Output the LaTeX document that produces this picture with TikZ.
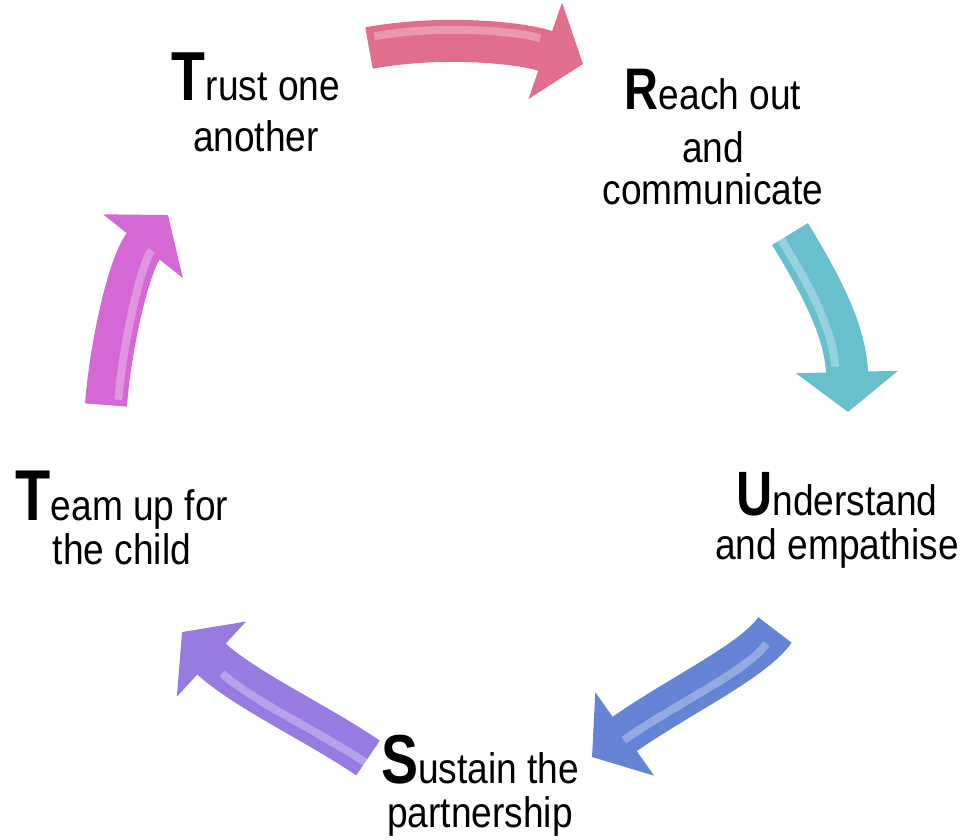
\documentclass[tikz,border=0pt]{standalone}
\usepackage{fontspec}
\setmainfont{Liberation Sans}[FakeStretch=0.87]
\newfontfamily\bigfont{Liberation Sans Bold}[FakeStretch=0.8]
\usetikzlibrary{arrows.meta}
\definecolor{pinkA}{RGB}{224,110,140}
\definecolor{cyanA}{RGB}{104,192,206}
\definecolor{blueA}{RGB}{102,132,214}
\definecolor{purpA}{RGB}{152,122,224}
\definecolor{magA}{RGB}{212,104,212}
\newcommand\biglet[2]{{\fontsize{#1}{#1}\bigfont #2}}
\tikzset{
  lbl/.style={anchor=base, inner sep=0pt, font=\fontsize{32pt}{33pt}\selectfont},
  cyclearrow/.style={line width=31.5pt, draw=#1, -{Triangle[length=30pt,width=75pt,fill=#1]}},
  shine/.style={line width=6pt, draw=white, opacity=0.3, shorten >=34pt, shorten <=4pt},
}
\begin{document}
\begin{tikzpicture}[x=0.75pt,y=-0.75pt]
\useasboundingbox (0,0) rectangle (960,839);
\fill[white] (0,0) rectangle (960,839);

% labels
\node[lbl] (trust) at (256,100) {\begin{tabular}[t]{@{}c@{}}\biglet{52pt}{T}rust one\\[5.5pt] another\end{tabular}};
\node[lbl] (reach) at (713,109) {\begin{tabular}[t]{@{}c@{}}\biglet{44pt}{R}each out\\[7pt] and\\[-1.5pt] communicate\end{tabular}};
\node[lbl] (under) at (837,515) {\begin{tabular}[t]{@{}c@{}}\biglet{47pt}{U}nderstand\\ and empathise\end{tabular}};
\node[lbl] (sust) at (480,783) {\begin{tabular}[t]{@{}c@{}}\biglet{52pt}{S}ustain the\\ partnership\end{tabular}};
\node[lbl] (team) at (122,520) {\begin{tabular}[t]{@{}c@{}}\biglet{54pt}{T}eam up for\\ the child\end{tabular}};

% arrow end points
\coordinate (a1s) at (369,48);  \coordinate (a1e) at (583,64);
\coordinate (a2s) at (790,234); \coordinate (a2e) at (848,412);
\coordinate (a3s) at (775,630); \coordinate (a3e) at (592,757);
\coordinate (a4s) at (368,758); \coordinate (a4e) at (182,632);
\coordinate (a5s) at (106,405); \coordinate (a5e) at (168,215);

% arrows
\draw[cyclearrow=pinkA] (a1s) .. controls (440,35) and (520,42) .. (a1e);
\draw[shine, transform canvas={yshift=8pt}] (a1s) .. controls (440,35) and (520,42) .. (a1e);

\draw[cyclearrow=cyanA] (a2s) .. controls (818,280) and (846,330) .. (a2e);
\draw[shine, transform canvas={xshift=-9pt}] (a2s) .. controls (818,280) and (846,330) .. (a2e);

\draw[cyclearrow=blueA] (a3s) .. controls (752,662) and (680,695) .. (a3e);
\draw[shine, transform canvas={xshift=-4pt,yshift=-7pt}] (a3s) .. controls (752,662) and (680,695) .. (a3e);

\draw[cyclearrow=purpA] (a4s) .. controls (315,722) and (245,690) .. (a4e);
\draw[shine, transform canvas={xshift=5pt,yshift=-8pt}] (a4s) .. controls (315,722) and (245,690) .. (a4e);

\draw[cyclearrow=magA] (a5s) .. controls (110,350) and (128,265) .. (a5e);
\draw[shine, transform canvas={xshift=9pt}] (a5s) .. controls (110,350) and (128,265) .. (a5e);
\end{tikzpicture}
\end{document}
